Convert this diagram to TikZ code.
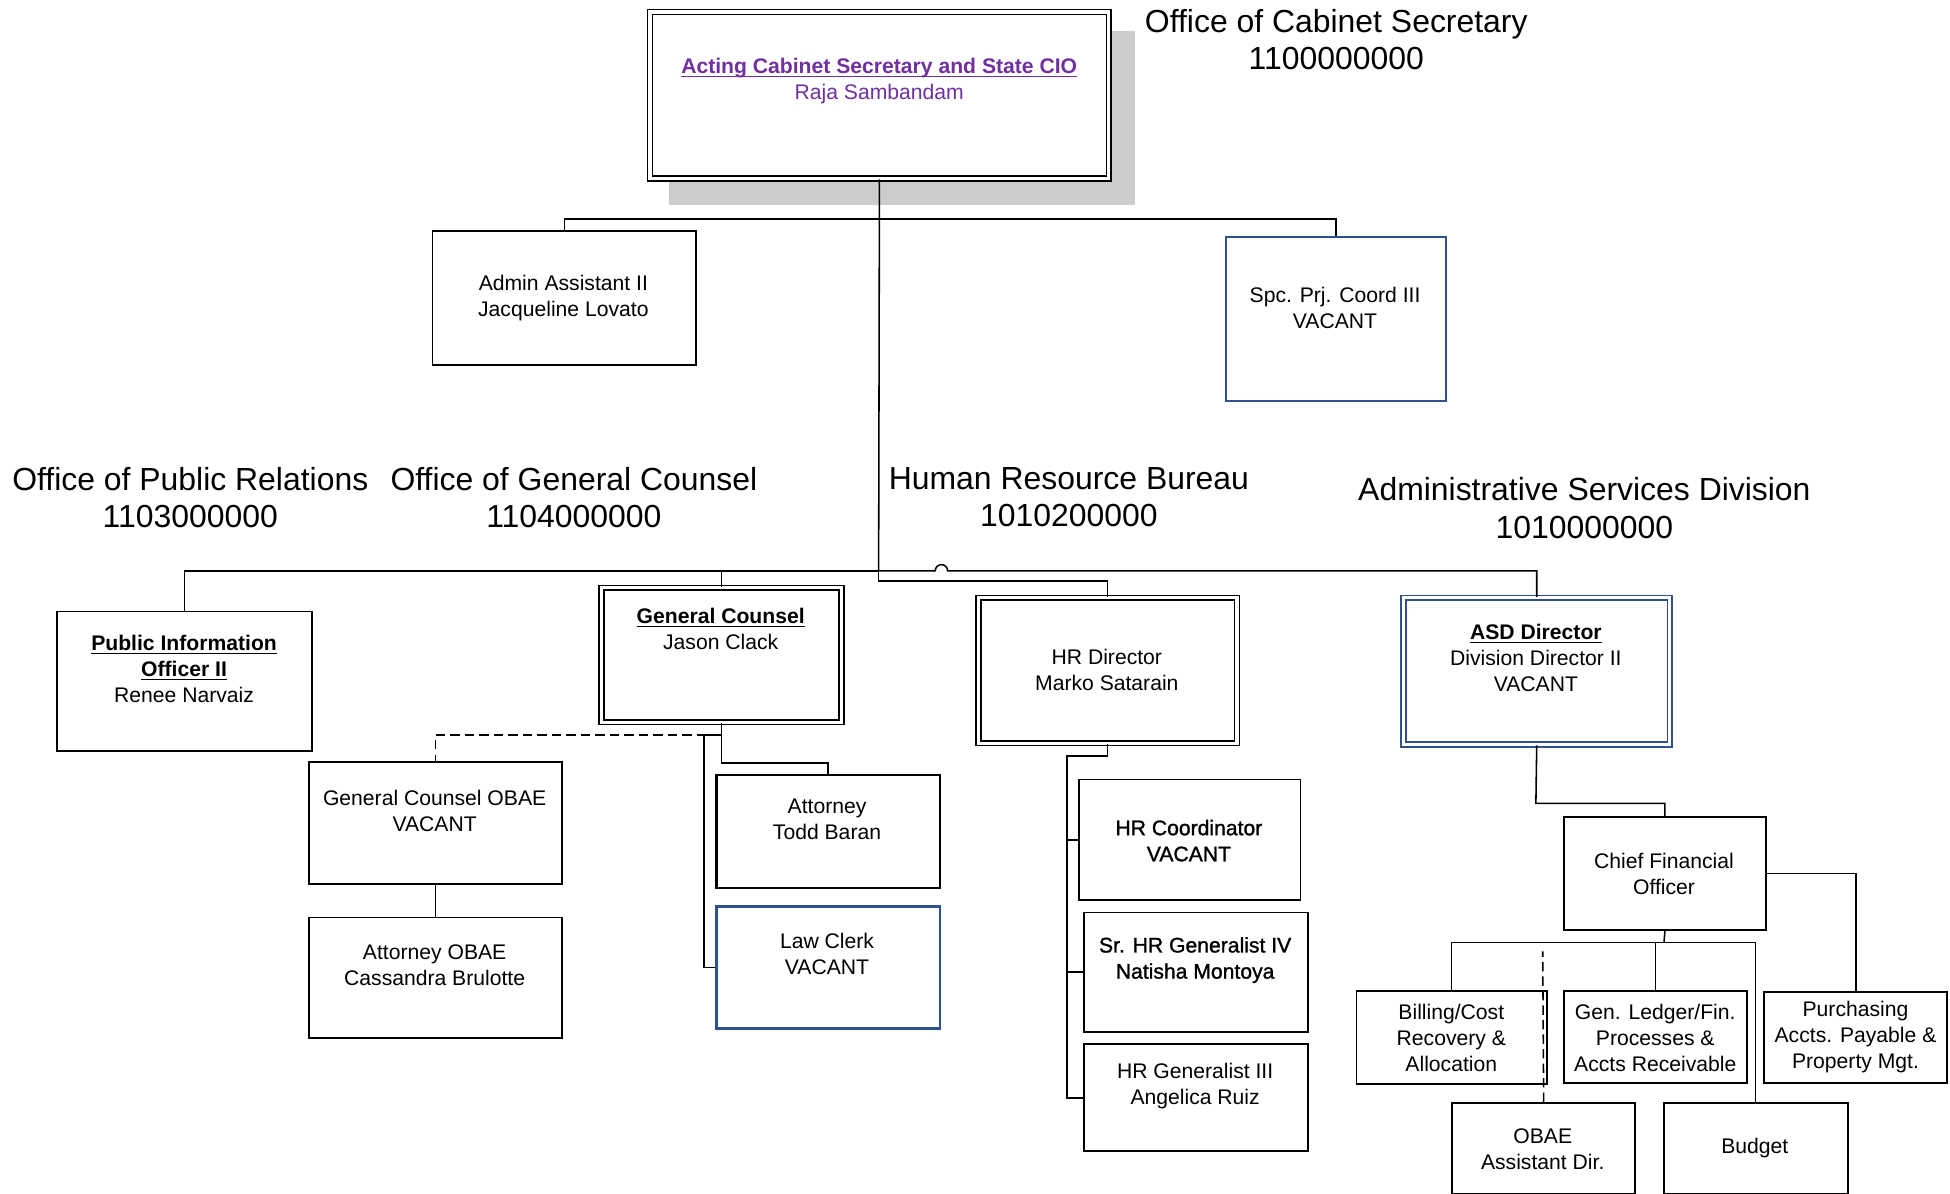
\documentclass[tikz,border=0pt]{standalone}
\usepackage{fontspec}
\setmainfont{Liberation Sans}
\newfontfamily\fbfont[FakeBold=1.2]{Liberation Sans}
\definecolor{boxblue}{RGB}{47,82,143}
\definecolor{cioviolet}{RGB}{112,48,160}
\definecolor{shadowgray}{RGB}{204,204,204}
\newcommand{\myul}[1]{\underline{\raisebox{0pt}[\height][0pt]{#1}}}
\begin{document}
\begin{tikzpicture}[x=0.6pt,y=-0.6pt,
  box/.style={draw=black, line width=0.9pt, fill=white, inner sep=0pt, anchor=north west},
  wh/.style 2 args={minimum width=#1*0.6pt, minimum height=#2*0.6pt},
  dbl/.style={double=white, double distance=1.5pt, line width=0.8pt},
  thickbox/.style={line width=1.2pt},
  txt/.style={align=center, inner sep=0pt, yshift=-0.9pt, font=\fontsize{10.2}{12.6}\selectfont},
  head/.style={align=center, inner sep=0pt, font=\fontsize{15.4}{18}\selectfont},
  conn/.style={line width=0.75pt},
  dashconn/.style={line width=0.75pt, dash pattern=on 4.5pt off 2.5pt}]
\useasboundingbox (0,0) rectangle (1568,960);

% shadow of top box
\fill[shadowgray] (538,25) rectangle (913,165);

% boxes
\node[box, dbl, wh={369}{134}] (top) at (522,9) {};
\node[box, wh={212}{108}] (admin) at (347,185) {};
\node[box, draw=boxblue, wh={177}{132}] (spc) at (985,190) {};
\node[box, wh={205}{112}] (pio) at (45,491) {};
\node[box, dbl, wh={193}{108}] (gc) at (483,472) {};
\node[box, dbl, wh={208}{117}] (hrd) at (786,480) {};
\node[box, dbl, draw=boxblue, wh={214}{118}] (asd) at (1128,480) {};
\node[box, wh={203}{98}] (gcobae) at (248,612) {};
\node[box, wh={203}{97}] (attobae) at (248,737) {};
\node[box, thickbox, wh={180}{91}] (atty) at (575,622) {};
\node[box, thickbox, draw=boxblue, wh={180}{98}] (law) at (575,728) {};
\node[box, wh={178}{97}] (hrc) at (867,626) {};
\node[box, wh={180}{96}] (srhr) at (871,733) {};
\node[box, wh={180}{86}] (hrg) at (871,839) {};
\node[box, wh={162}{91}] (cfo) at (1257,656) {};
\node[box, wh={153}{75}] (bill) at (1090,796) {};
\node[box, wh={147}{74}] (gl) at (1257,796) {};
\node[box, wh={147}{73}] (purch) at (1418,797) {};
\node[box, wh={147}{73}] (obae) at (1167,886) {};
\node[box, wh={148}{73}] (budget) at (1337,886) {};

% junction coordinates
\coordinate (J) at (706.5,459);
\coordinate (J2) at (706.5,467);
\coordinate (b1) at (706.5,176);
\coordinate (h1) at (752,459);
\coordinate (gcb) at (579.5,591);
\coordinate (gcb2) at (566,591);
\coordinate (hrb) at (858,608);
\coordinate (ab) at (1235,646);
\coordinate (cb) at (1338,758);
\coordinate (dtop) at (1240.5,765);

% connectors
\draw[conn] (top.south) -- (J);
\draw[conn] (admin.north) |- (b1) -| (spc.north);
\draw[conn] (pio.north) |- (J);
\draw[conn] (gc.north) -- (gc.north |- J);
\draw[conn] (J) -- (h1) arc[start angle=180, end angle=0, radius=3pt] -- (asd.north |- J) -- (asd.north);
\draw[conn] (J) -- (J2) -| (hrd.north);
% general counsel
\draw[conn] (gc.south) |- (gcb2) |- (law.west);
\draw[conn] (gc.south) -- ++(0,32) -| (atty.north);
\draw[dashconn] (gcb) -| (gcobae.north);
\draw[conn] (gcobae.south) -- (attobae.north);
% HR
\draw[conn] (hrd.south) |- (hrb) |- (hrg.west);
\draw[conn] (hrb |- hrc.west) -- (hrc.west);
\draw[conn] (hrb |- srhr.west) -- (srhr.west);
% ASD
\draw[conn] (asd.south) -- (ab) -| (cfo.north);
\draw[conn] (cfo.east) -| (purch.north);
\draw[conn] (cfo.south) -- (cb);
\draw[conn] (bill.north) |- (cb) -| (budget.north);
\draw[conn] (gl.north) -- (gl.north |- cb);
\draw[dashconn] (obae.north) -- (dtop);

% texts
\node[txt, text=cioviolet] (t-top) at (707,64) {\myul{\textbf{Acting Cabinet Secretary and State CIO}}\\Raja Sambandam};
\node[txt] (t-admin) at (453,238.5) {Admin Assistant II\\Jacqueline Lovato};
\node[txt] (t-spc) at (1073.5,246) {Spc. Prj. Coord III\\VACANT};
\node[txt] (t-pio) at (148,536.5) {\myul{\textbf{Public Information}}\\\myul{\textbf{Officer II}}\\Renee Narvaiz};
\node[txt] (t-gc) at (579.5,504.5) {\myul{\textbf{General Counsel}}\\Jason Clack};
\node[txt] (t-hrd) at (890,537.5) {HR Director\\Marko Satarain};
\node[txt] (t-asd) at (1235,527.5) {\myul{\textbf{ASD Director}}\\Division Director II\\VACANT};
\node[txt] (t-gcobae) at (349.5,650.5) {General Counsel OBAE\\VACANT};
\node[txt] (t-attobae) at (349.5,774.5) {Attorney OBAE\\Cassandra Brulotte};
\node[txt] (t-atty) at (665,657) {Attorney\\Todd Baran};
\node[txt] (t-law) at (665,765.5) {Law Clerk\\VACANT};
\node[txt, font=\fontsize{10.2}{12.6}\selectfont\fbfont] (t-hrc) at (956,674.5) {HR Coordinator\\VACANT};
\node[txt, font=\fontsize{10.2}{12.6}\selectfont\fbfont] (t-srhr) at (961,770.5) {Sr. HR Generalist IV\\Natisha Montoya};
\node[txt] (t-hrg) at (961,871.5) {HR Generalist III\\Angelica Ruiz};
\node[txt] (t-cfo) at (1338,701) {Chief Financial\\Officer};
\node[txt] (t-bill) at (1167,833) {Billing/Cost\\Recovery \&\\Allocation};
\node[txt] (t-gl) at (1331,833) {Gen. Ledger/Fin.\\Processes \&\\Accts Receivable};
\node[txt] (t-purch) at (1492,832.5) {Purchasing\\Accts. Payable \&\\Property Mgt.};
\node[txt] (t-obae) at (1240.5,922.5) {OBAE\\Assistant Dir.};
\node[txt] (t-budget) at (1411,922) {Budget};

% headings
\node[head] (h-cab) at (1074.5,32) {Office of Cabinet Secretary\\1100000000};
\node[head] (h-pr) at (153,400) {Office of Public Relations\\1103000000};
\node[head] (h-gc) at (461.5,400) {Office of General Counsel\\1104000000};
\node[head] (h-hr) at (859.5,400) {Human Resource Bureau\\1010200000};
\node[head] (h-asd) at (1274,408.5) {Administrative Services Division\\1010000000};
\end{tikzpicture}
\end{document}
